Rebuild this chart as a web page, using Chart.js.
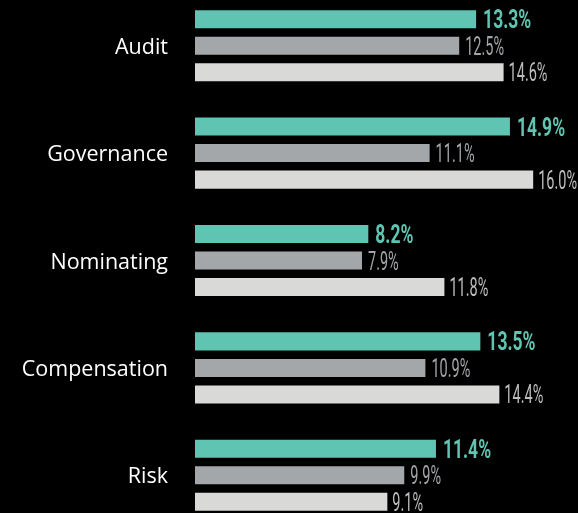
<!DOCTYPE html>
<html>
<head>
<meta charset="utf-8">
<script src="https://cdn.jsdelivr.net/npm/chart.js@4/dist/chart.umd.min.js"></script>
<style>
  html, body { margin: 0; padding: 0; background: #000; overflow: hidden; }
  body { width: 578px; height: 513px; position: relative; }
  #wrap { position: absolute; left: 0; top: -8px; width: 578px; height: 537px; }
</style>
</head>
<body>
<div id="wrap"><canvas id="c"></canvas></div>
<script>
const categories = ['Audit', 'Governance', 'Nominating', 'Compensation', 'Risk'];
const seriesA = [13.3, 14.9, 8.2, 13.5, 11.4];
const seriesB = [12.5, 11.1, 7.9, 10.9, 9.9];
const seriesC = [14.6, 16.0, 11.8, 14.4, 9.1];
const xMax = 18.12;

const TEAL = '#5fc5b2';
const GRAY = '#a4a7a9';
const LIGHT = '#d9d9d8';

const labelStyles = [
  { color: TEAL, weight: 'bold', scale: 0.70, gap: 7 },
  { color: '#a2a5a7', weight: 'normal', scale: 0.58, gap: 6 },
  { color: '#bdbdbd', weight: 'normal', scale: 0.58, gap: 5 }
];

const valueLabels = {
  id: 'valueLabels',
  afterDatasetsDraw(chart) {
    const ctx = chart.ctx;
    chart.data.datasets.forEach((ds, di) => {
      const meta = chart.getDatasetMeta(di);
      const st = labelStyles[di];
      meta.data.forEach((bar, i) => {
        const txt = ds.data[i].toFixed(1) + '%';
        ctx.save();
        ctx.font = st.weight + ' 25px Roboto';
        ctx.fillStyle = st.color;
        ctx.textBaseline = 'alphabetic';
        ctx.textAlign = 'left';
        ctx.translate(bar.x + st.gap, bar.y + 9);
        ctx.scale(st.scale, 1);
        ctx.fillText(txt, 0, 0);
        ctx.restore();
      });
    });
  }
};

new Chart(document.getElementById('c'), {
  type: 'bar',
  data: {
    labels: categories,
    datasets: [
      { data: seriesA, backgroundColor: TEAL },
      { data: seriesB, backgroundColor: GRAY },
      { data: seriesC, backgroundColor: LIGHT }
    ]
  },
  options: {
    indexAxis: 'y',
    responsive: true,
    maintainAspectRatio: false,
    animation: false,
    devicePixelRatio: 1,
    categoryPercentage: 0.741,
    barPercentage: 0.679,
    layout: { padding: 0 },
    plugins: { legend: { display: false }, tooltip: { enabled: false } },
    scales: {
      x: { display: false, min: 0, max: xMax },
      y: {
        grid: { display: false, drawTicks: false },
        border: { display: false },
        ticks: { color: '#ffffff', font: { family: 'Open Sans', size: 21.5 }, padding: 27, labelOffset: 2 },
        afterFit(scale) { scale.width = 195; scale.paddingTop = 0; scale.paddingBottom = 0; }
      }
    }
  },
  plugins: [valueLabels]
});
</script>
</body>
</html>
